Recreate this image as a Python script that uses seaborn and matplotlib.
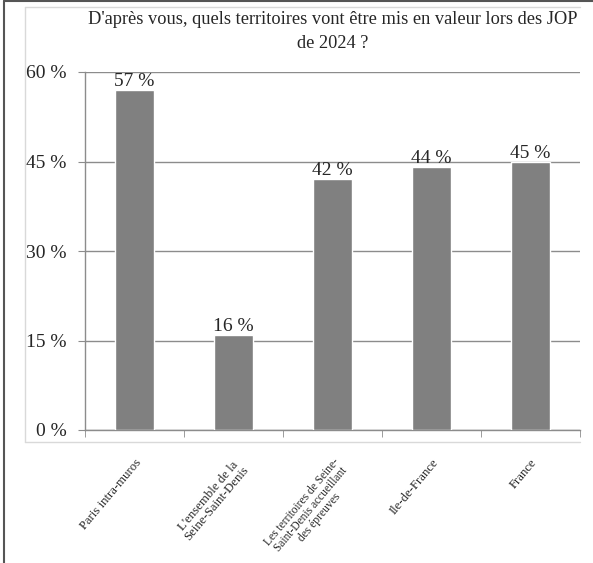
import numpy as np
import pandas as pd
import matplotlib.pyplot as plt
import seaborn as sns
from matplotlib.lines import Line2D

# données
categories = ['Paris intra-muros',
              "L'ensemble de la\nSeine-Saint-Denis",
              'Les territoires de Seine-\nSaint-Denis accueillant\ndes épreuves',
              'Ile-de-France',
              'France']
valeurs = [57, 16, 42, 44, 45]
yticks = [0, 15, 30, 45, 60]

df = pd.DataFrame({'territoire': categories, 'pct': valeurs})

sns.set_style('white')
plt.rcParams['font.family'] = ['Liberation Serif', 'DejaVu Serif']

fig = plt.figure(figsize=(5.93, 5.63), dpi=100)
ax = fig.add_axes([85/593, 1-430/563, (580-85)/593, (430-72)/563])

sns.barplot(data=df, x='territoire', y='pct', color='#808080', width=0.4,
            saturation=1, ax=ax, zorder=3)

ax.set_ylim(0, 60)
ax.set_xlim(-0.5, len(categories)-0.5)
ax.set_yticks(yticks)
ax.set_yticklabels([f'{v} %' for v in yticks], fontsize=14)
ax.yaxis.grid(True, color='#8c8c8c', linewidth=1, zorder=0)
ax.set_xlabel('')
ax.set_ylabel('')

for s in ['top', 'right']:
    ax.spines[s].set_visible(False)
for s in ['left', 'bottom']:
    ax.spines[s].set_color('#8c8c8c')
    ax.spines[s].set_linewidth(1)

ax.tick_params(axis='y', length=5, color='#8c8c8c', pad=8.5, left=True)
ax.set_xticks(np.arange(-0.5, len(categories)), minor=True)
ax.tick_params(axis='x', which='minor', length=5, color='#8c8c8c', bottom=True)
ax.tick_params(axis='x', which='major', length=0, pad=19)
ax.set_xticklabels(categories, rotation=50, ha='right', rotation_mode='anchor',
                   fontsize=9.2, multialignment='center', linespacing=0.95)
ax.get_xticklabels()[2].set_fontsize(8.3)

# étiquettes des valeurs
for i, v in enumerate(valeurs):
    ax.text(i, v, f'{v} %', ha='center', va='bottom', fontsize=14)

fig.text(333/593, 1-11/563,
         "D'après vous, quels territoires vont être mis en valeur lors des JOP\nde 2024 ?",
         ha='center', va='top', fontsize=13.2, linespacing=1.55)

# cadres
gris_clair = '#d9d9d9'
x0, x1 = 25/593, 580/593
y0, y1 = 1-442/563, 1-7/563
fig.lines.append(Line2D([x0, x0], [y0, y1], transform=fig.transFigure, color=gris_clair, lw=1))
fig.lines.append(Line2D([x0, x1], [y1, y1], transform=fig.transFigure, color=gris_clair, lw=1))
fig.lines.append(Line2D([x0, x1], [y0, y0], transform=fig.transFigure, color=gris_clair, lw=1))
fig.lines.append(Line2D([4/593, 4/593], [0, 1-1/563], transform=fig.transFigure,
                        color='#555555', linewidth=1.5))
fig.lines.append(Line2D([4/593, 1], [1-1/563, 1-1/563], transform=fig.transFigure,
                        color='#555555', linewidth=1.5))

fig.savefig('out.png', dpi=100)
